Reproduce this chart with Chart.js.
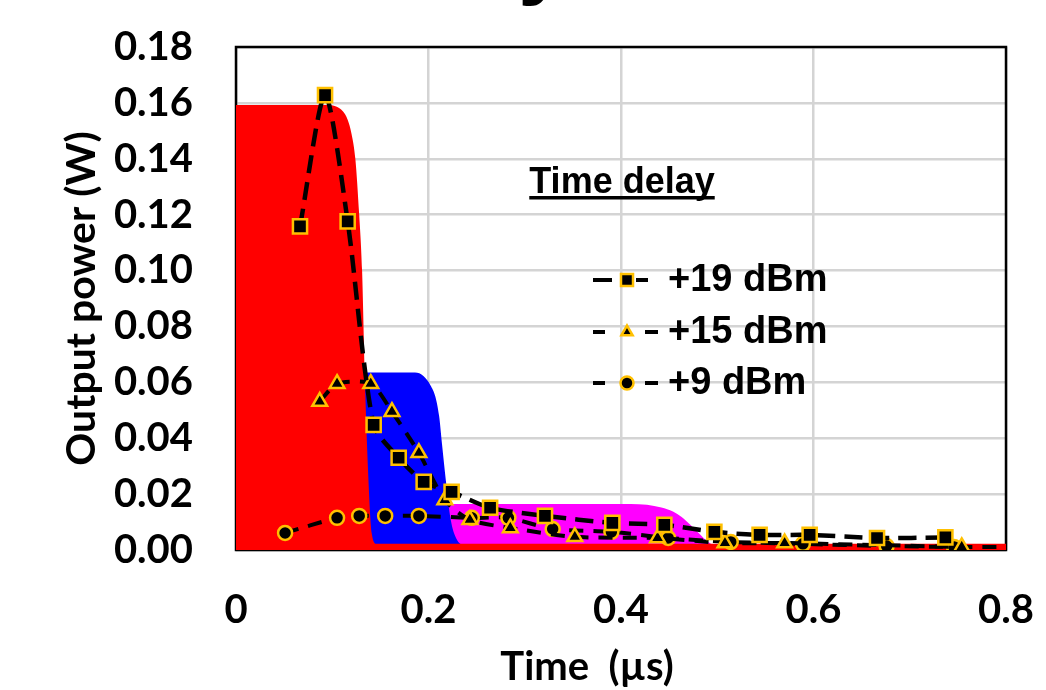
<!DOCTYPE html>
<html>
<head>
<meta charset="utf-8">
<script src="https://cdn.jsdelivr.net/npm/chart.js@4.4.1/dist/chart.umd.min.js"></script>
<style>
  html, body { margin: 0; padding: 0; background: #fff; overflow: hidden; }
  #wrap { width: 1046px; height: 690px; }
</style>
</head>
<body>
<div id="wrap"><canvas id="chart"></canvas></div>
<script>
// --- data (time in µs, power in W) ---
const xTicks = [0, 0.2, 0.4, 0.6, 0.8];
const yTicks = [0, 0.02, 0.04, 0.06, 0.08, 0.10, 0.12, 0.14, 0.16, 0.18];

const seriesNames = ['+19 dBm', '+15 dBm', '+9 dBm'];

const t19 = [0.0665, 0.0925, 0.116, 0.143, 0.169, 0.195, 0.224, 0.264, 0.321, 0.391, 0.445, 0.497, 0.544, 0.596, 0.666, 0.737];
const p19 = [0.1158, 0.1628, 0.1176, 0.0448, 0.033, 0.0244, 0.0208, 0.0151, 0.0122, 0.0097, 0.009, 0.0065, 0.0054, 0.0054, 0.0043, 0.0045];

const t15 = [0.087, 0.105, 0.140, 0.162, 0.190, 0.217, 0.243, 0.285, 0.352, 0.438, 0.508, 0.570, 0.754, 0.8];
const p15 = [0.0531, 0.0595, 0.0595, 0.0495, 0.0348, 0.0179, 0.0108, 0.0079, 0.0047, 0.0043, 0.0025, 0.0025, 0.0011, 0.0011];

const t9 = [0.051, 0.105, 0.128, 0.155, 0.190, 0.245, 0.283, 0.329, 0.390, 0.449, 0.514, 0.589, 0.676, 0.746];
const p9 = [0.0061, 0.0115, 0.0122, 0.0122, 0.0122, 0.0115, 0.0115, 0.0075, 0.0065, 0.0043, 0.0029, 0.0022, 0.0014, 0.0011];

// simulated pulses (filled areas)
const redT = [0, 0.095, 0.104, 0.111, 0.116, 0.120, 0.124, 0.128, 0.131, 0.134, 0.137, 0.141, 0.146, 0.8];
const redP = [0.1592, 0.1592, 0.1587, 0.157, 0.154, 0.149, 0.14, 0.12, 0.10, 0.06, 0.03, 0.006, 0.0022, 0.0022];

const blueT = [0.125, 0.186, 0.195, 0.202, 0.207, 0.211, 0.214, 0.218, 0.223, 0.229, 0.237, 0.246];
const blueP = [0.0635, 0.0635, 0.0622, 0.059, 0.055, 0.048, 0.038, 0.025, 0.011, 0.004, 0.0015, 0.0005];

const pinkT = [0.2, 0.41, 0.427, 0.442, 0.454, 0.463, 0.472, 0.481, 0.49, 0.5];
const pinkP = [0.0165, 0.0165, 0.0162, 0.0152, 0.0138, 0.0118, 0.009, 0.006, 0.003, 0.001];

const pts = (xs, ys) => xs.map((x, i) => ({ x: x, y: ys[i] }));

const ORANGE = '#FFC000';
const tickFont = { family: 'Lato', weight: 'bold', size: 40 };

function pulse(xs, ys, color, order) {
  return {
    data: pts(xs, ys),
    backgroundColor: color,
    borderWidth: 0,
    pointRadius: 0,
    fill: 'origin',
    cubicInterpolationMode: 'monotone',
    order: order
  };
}

function series(label, xs, ys, style, radius, dash, width, order) {
  return {
    label: label,
    data: pts(xs, ys),
    borderColor: '#000',
    borderWidth: width,
    borderDash: dash,
    tension: 0.25,
    fill: false,
    pointStyle: style,
    pointRadius: xs.map(x => (x >= 0.8 ? 0 : radius)),
    pointBackgroundColor: '#000',
    pointBorderColor: ORANGE,
    pointBorderWidth: 2.5,
    order: order
  };
}

const lineSets = [
  series(seriesNames[0], t19, p19, 'rect', 10, [18, 9], 4.5, 0),
  series(seriesNames[1], t15, p15, 'triangle', 8.5, [14, 10], 4, 1),
  series(seriesNames[2], t9, p9, 'circle', 7, [14, 10], 4, 2)
];

// legend line pieces either side of the marker
const legendDashes = [
  [[593, 612], [636, 648]],
  [[593, 605], [645, 658]],
  [[593, 605], [645, 658]]
];

function marker(ctx, style, x, y, r) {
  ctx.save();
  ctx.fillStyle = '#000';
  ctx.strokeStyle = ORANGE;
  ctx.lineWidth = 2.5;
  ctx.setLineDash([]);
  Chart.helpers.drawPoint(ctx, { pointStyle: style, radius: r, borderWidth: 2.5 }, x, y);
  ctx.restore();
}

// frame, legend and the loose texts
const overlay = {
  id: 'overlay',
  beforeDatasetsDraw(chart) {
    const { ctx, chartArea: a } = chart;
    ctx.save();
    ctx.strokeStyle = '#000';
    ctx.lineWidth = 2.5;
    ctx.strokeRect(a.left, a.top, a.right - a.left, a.bottom - a.top);
    ctx.restore();
  },
  afterDraw(chart) {
    const ctx = chart.ctx;
    ctx.save();
    ctx.fillStyle = '#000';

    // chart title, cut off by the top edge (only the tail of the y shows)
    ctx.font = 'bold 90px "Liberation Sans"';
    ctx.textAlign = 'right';
    ctx.textBaseline = 'alphabetic';
    ctx.fillText('Time delay', 568, -13);

    // x axis title
    ctx.font = 'bold 40px Lato';
    ctx.textAlign = 'center';
    ctx.fillText('Time  (\u00b5s)', 587, 680);

    // legend heading
    ctx.font = 'bold 36px "Liberation Sans"';
    ctx.fillText('Time delay', 622, 193);
    const w = ctx.measureText('Time delay').width;
    ctx.fillRect(622 - w / 2, 196, w, 3.5);

    // legend entries
    const rows = [280, 332, 383];
    ctx.textAlign = 'left';
    ctx.textBaseline = 'middle';
    ctx.font = 'bold 38px "Liberation Sans"';
    lineSets.forEach((ds, i) => {
      const y = rows[i];
      ctx.strokeStyle = '#000';
      ctx.lineWidth = 4;
      legendDashes[i].forEach(d => {
        ctx.beginPath();
        ctx.moveTo(d[0], y);
        ctx.lineTo(d[1], y);
        ctx.stroke();
      });
      marker(ctx, ds.pointStyle, 627, y, ds.pointStyle === 'rect' ? 8.5 : 6.5);
      ctx.fillStyle = '#000';
      ctx.fillText(ds.label, 668, y + 1);
    });
    ctx.restore();
  }
};

new Chart(document.getElementById('chart'), {
  type: 'line',
  data: {
    datasets: [
      ...lineSets,
      pulse(redT, redP, '#FF0000', 3),
      pulse(blueT, blueP, '#0000FF', 4),
      pulse(pinkT, pinkP, '#FF00FF', 5)
    ]
  },
  options: {
    responsive: true,
    maintainAspectRatio: false,
    animation: false,
    events: [],
    layout: { padding: { top: 47, right: 40, left: 0, bottom: 0 } },
    plugins: { legend: { display: false }, tooltip: { enabled: false } },
    scales: {
      x: {
        type: 'linear',
        min: 0,
        max: 0.8,
        afterBuildTicks: s => { s.ticks = xTicks.map(v => ({ value: v })); },
        afterFit: s => { s.height = 140; s.paddingLeft = 0; s.paddingRight = 0; },
        ticks: {
          font: tickFont,
          color: '#000',
          padding: 36,
          maxRotation: 0,
          callback: v => (v === 0 ? '0' : v.toFixed(1))
        },
        grid: { color: '#D4D4D4', lineWidth: 2.5, drawTicks: false },
        border: { display: false }
      },
      y: {
        min: 0,
        max: 0.18,
        afterBuildTicks: s => { s.ticks = yTicks.map(v => ({ value: v })); },
        afterFit: s => { s.width = 236; s.paddingTop = 0; s.paddingBottom = 0; },
        ticks: {
          font: tickFont,
          color: '#000',
          padding: 43,
          callback: v => v.toFixed(2)
        },
        grid: { color: '#D4D4D4', lineWidth: 2.5, drawTicks: false },
        border: { display: false },
        title: {
          display: true,
          text: 'Output power (W)',
          color: '#000',
          font: { family: 'Lato', weight: 'bold', size: 41 },
          padding: { top: 57, bottom: 0 }
        }
      }
    }
  },
  plugins: [overlay]
});
</script>
</body>
</html>
